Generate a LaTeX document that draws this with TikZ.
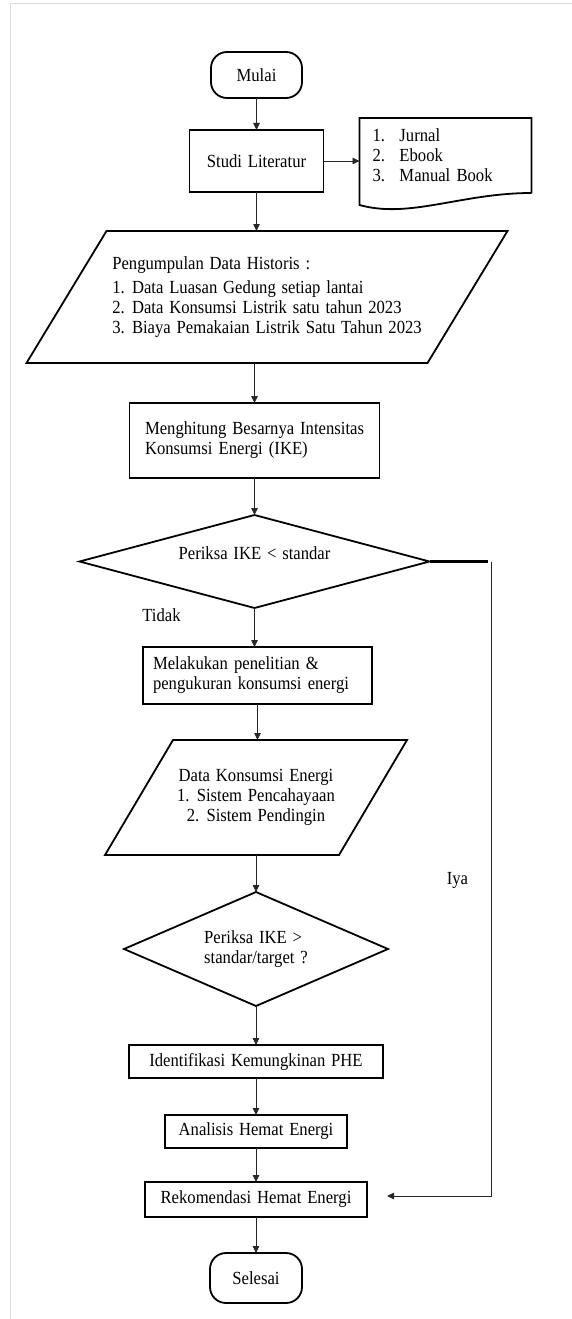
\documentclass[tikz,border=0pt]{standalone}
\usepackage{fontspec}
\setmainfont[FakeStretch=0.9, WordSpace=1.4]{Liberation Serif}
\usepackage{tikz}
\usetikzlibrary{arrows.meta, positioning, shapes.geometric}
\definecolor{GarisHitam}{HTML}{000000}
\definecolor{PanahAbu}{HTML}{262626}
\definecolor{BingkaiAbu}{HTML}{D9D9D9}

\begin{document}
\begin{tikzpicture}[x=1pt, y=1pt, every node/.style={font=\fontsize{18.5}{20}\selectfont, inner sep=4pt, outer sep=0pt},
    kotak/.style={draw=GarisHitam, line width=1.8pt, rectangle, align=center},
    terminal/.style={draw=GarisHitam, line width=1.8pt, rounded corners=16pt, minimum width=91pt, minimum height=46pt},
    keputusan/.style={draw=GarisHitam, line width=1.8pt, diamond},
    tepi/.style={draw=GarisHitam, line width=1.8pt},
    panah/.style={-{Triangle[length=7pt, width=6.5pt]}, line width=0.8pt, PanahAbu}]
      \useasboundingbox (0,0) rectangle (572,-1319);
      \draw[BingkaiAbu, line width=1pt] (10,-1319) -- (10,-4) -- (572,-4);
      \node[terminal] (mulai) at (256.5,-75) {Mulai};
      \node[kotak, minimum width=134pt, minimum height=62pt, below=32pt of mulai] (studi) {Studi Literatur};
      \node[minimum width=172pt, minimum height=75pt, text width=146pt, align=left, right=36pt of studi, yshift=5.5pt] (pustaka) {\makebox[27pt][l]{1.}Jurnal\\ \makebox[27pt][l]{2.}Ebook\\ \makebox[27pt][l]{3.}Manual Book};
      \draw[tepi] (pustaka.south east) -- (pustaka.north east) -- (pustaka.north west) -- ([yshift=-12pt]pustaka.south west) .. controls ([xshift=50pt, yshift=-26pt]pustaka.south west) and ([xshift=-70pt]pustaka.south east) .. (pustaka.south east);
      \node[minimum width=401pt, minimum height=132pt, align=left, below=39pt of studi, xshift=10.5pt] (data1) {Pengumpulan Data Historis :\\[4pt] 1. Data Luasan Gedung setiap lantai\\ 2. Data Konsumsi Listrik satu tahun 2023\\ 3. Biaya Pemakaian Listrik Satu Tahun 2023};
      \draw[tepi] ([xshift=40pt]data1.north west) -- ([xshift=40pt]data1.north east) -- ([xshift=-40pt]data1.south east) -- ([xshift=-40pt]data1.south west) -- cycle;
      \node[kotak, minimum width=250pt, minimum height=75pt, text width=219pt, align=left, below=40pt of data1, xshift=-12.5pt] (menghitung) {Menghitung\hfill Besarnya\hfill Intensitas\\ Konsumsi Energi (IKE)};
      \node[keputusan, minimum width=350pt, minimum height=93pt, aspect=3.76, below=37pt of menghitung] (dcek) {\raisebox{8pt}[\height][\depth]{Periksa IKE < standar}};
      \node[kotak, minimum width=229pt, minimum height=57pt, text width=209pt, align=left, below=39pt of dcek, xshift=3pt] (melakukan) {Melakukan penelitian \&\\ pengukuran konsumsi energi};
      \node[minimum width=234pt, minimum height=115pt, align=center, below=36pt of melakukan, xshift=-1.5pt] (data2) {Data Konsumsi Energi\\ 1. Sistem Pencahayaan\\ 2. Sistem Pendingin};
      \draw[tepi] ([xshift=34pt]data2.north west) -- ([xshift=34pt]data2.north east) -- ([xshift=-34pt]data2.south east) -- ([xshift=-34pt]data2.south west) -- cycle;
      \node[keputusan, minimum width=264pt, minimum height=114pt, aspect=2.3, align=left, below=37pt of data2] (dtarget) {Periksa IKE >\\ standar/target ?};
      \node[kotak, minimum width=254pt, minimum height=33pt, below=39pt of dtarget] (identifikasi) {Identifikasi Kemungkinan PHE};
      \node[kotak, minimum width=182pt, minimum height=33pt, below=37pt of identifikasi] (analisis) {Analisis Hemat Energi};
      \node[kotak, minimum width=222pt, minimum height=35pt, below=34pt of analisis] (rekom) {Rekomendasi Hemat Energi};
      \node[terminal, minimum width=92pt, minimum height=50pt, below=36pt of rekom] (selesai) {Selesai};
      \node (tidak) at ([xshift=-93pt, yshift=-7pt]dcek.south) {Tidak};
      \coordinate[right=58pt of dcek.east] (belok);
      \coordinate[right=20pt of rekom.east, yshift=3.5pt] (masuk);
      \node (iya) at ([xshift=-30pt, yshift=12pt]belok |- dtarget.north) {Iya};
      \draw[panah] (mulai) -- (studi);
      \draw[panah] (studi.east) -- (studi.east -| pustaka.west);
      \draw[panah] (studi) -- (studi |- data1.north);
      \draw[panah] (data1.south -| menghitung) -- (menghitung);
      \draw[panah] (menghitung) -- (dcek);
      \draw[panah] (dcek) -- (dcek |- melakukan.north);
      \draw[panah] (melakukan) -- (melakukan |- data2.north);
      \draw[panah] (data2) -- (dtarget);
      \draw[panah] (dtarget) -- (identifikasi);
      \draw[panah] (identifikasi) -- (analisis);
      \draw[panah] (analisis) -- (rekom);
      \draw[panah] (rekom) -- (selesai);
      \draw[draw=GarisHitam, line width=2.6pt] (dcek.east) -- (belok);
      \draw[panah] ([xshift=4pt]belok) |- (masuk);
    \end{tikzpicture}
\end{document}
